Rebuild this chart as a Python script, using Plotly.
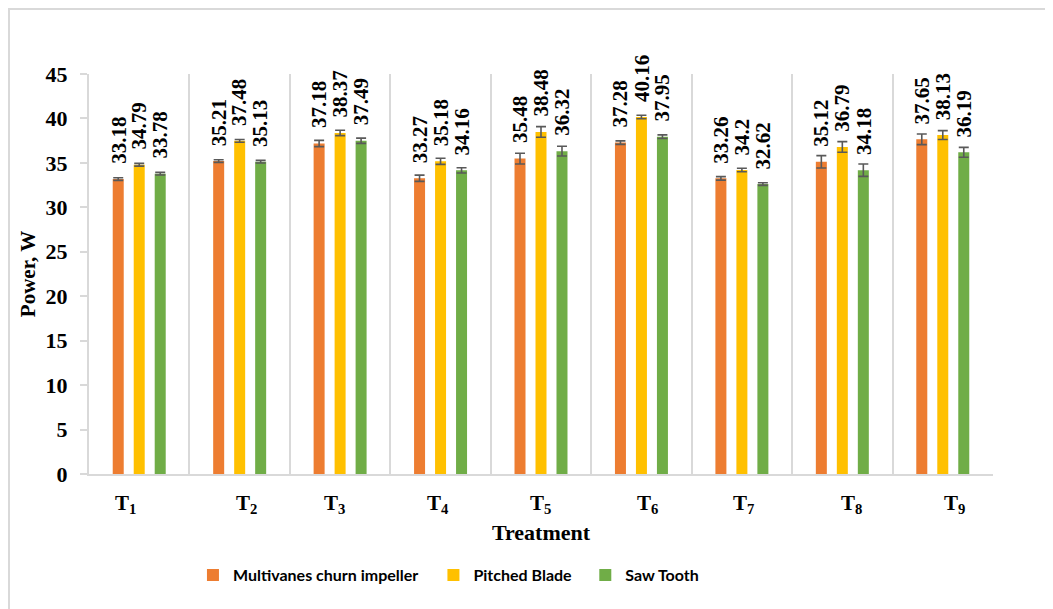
import plotly.graph_objects as go

categories = ["T1", "T2", "T3", "T4", "T5", "T6", "T7", "T8", "T9"]
tick_labels = ["T<sub>1</sub>", "T<sub>2</sub>", "T<sub>3</sub>", "T<sub>4</sub>", "T<sub>5</sub>",
               "T<sub>6</sub>", "T<sub>7</sub>", "T<sub>8</sub>", "T<sub>9</sub>"]
series_names = ["Multivanes churn impeller", "Pitched Blade", "Saw Tooth"]
multivanes = [33.18, 35.21, 37.18, 33.27, 35.48, 37.28, 33.26, 35.12, 37.65]
pitched = [34.79, 37.48, 38.37, 35.18, 38.48, 40.16, 34.2, 36.79, 38.13]
saw = [33.78, 35.13, 37.49, 34.16, 36.32, 37.95, 32.62, 34.18, 36.19]
err_multivanes = [0.15, 0.15, 0.35, 0.35, 0.6, 0.2, 0.2, 0.7, 0.6]
err_pitched = [0.15, 0.15, 0.3, 0.35, 0.6, 0.2, 0.2, 0.6, 0.5]
err_saw = [0.15, 0.15, 0.3, 0.3, 0.55, 0.2, 0.15, 0.7, 0.55]

colors = ["#ED7D31", "#FFC000", "#70AD47"]
serif = "Liberation Serif"
tick_xshift = [-14, 7, -6, -3, -1, 6, 2, 9, 12]
bar_xshift = [-21, 0, 21]
legend_ids = ["legend", "legend2", "legend3"]
legend_x = [0.115, 0.381, 0.549]

fig = go.Figure()
all_vals = [multivanes, pitched, saw]
all_errs = [err_multivanes, err_pitched, err_saw]
for name, vals, errs, col, lid in zip(series_names, all_vals, all_errs, colors, legend_ids):
    fig.add_trace(go.Bar(
        x=categories, y=vals, name=name, marker=dict(color=col, line=dict(width=0)),
        error_y=dict(type="data", array=errs, color="#595959", thickness=1.6, width=5),
        legend=lid, cliponaxis=False,
    ))

annotations = []
for vals, xs in zip(all_vals, bar_xshift):
    for c, v in zip(categories, vals):
        annotations.append(dict(
            x=c, y=v, xref="x", yref="y", text=f"<b>{v:g}</b>", showarrow=False,
            textangle=-90, xanchor="center", yanchor="bottom", xshift=xs, yshift=13,
            font=dict(family=serif, size=21, color="black"),
        ))
for c, lab, xs in zip(categories, tick_labels, tick_xshift):
    annotations.append(dict(
        x=c, y=0, xref="x", yref="paper", text=f"<b>{lab}</b>", showarrow=False,
        xanchor="center", yanchor="middle", yshift=-30, xshift=xs,
        font=dict(family=serif, size=21, color="black"),
    ))

legend_common = dict(orientation="h", xanchor="left", y=-0.253, yanchor="middle",
                     font=dict(family="Lato", size=16, color="black", weight="bold"),
                     itemwidth=30)
layout_legends = {}
for lid, lx in zip(legend_ids, legend_x):
    layout_legends[lid] = dict(legend_common, x=lx)

fig.update_layout(
    width=1045, height=601,
    margin=dict(l=81, r=60, t=66, b=135),
    paper_bgcolor="white", plot_bgcolor="white",
    barmode="group", bargap=0.373, bargroupgap=0.476,
    showlegend=True,
    annotations=annotations,
    shapes=[dict(type="rect", xref="paper", yref="paper", x0=-0.0885, x1=1.08, y0=-0.36, y1=1.1625,
                 line=dict(color="#D9D9D9", width=2), layer="below")],
    **layout_legends,
)
fig.update_xaxes(
    type="category", tickson="boundaries", showgrid=True, gridcolor="#D9D9D9", gridwidth=2,
    showline=True, linecolor="#D9D9D9", linewidth=2, ticks="", showticklabels=False,
    title=dict(text="<b>Treatment</b>", font=dict(family=serif, size=22, color="black"), standoff=50),
)
fig.update_yaxes(
    range=[0, 45], dtick=5, showgrid=False, showline=True, linecolor="#D9D9D9", linewidth=2,
    ticks="outside", ticklen=7, tickcolor="#D9D9D9", tickwidth=2,
    tickfont=dict(family=serif, size=22, color="black"), tickprefix="<b>", ticksuffix="</b>",
    ticklabelstandoff=8,
    title=dict(text="<b>Power, W</b>", font=dict(family=serif, size=21, color="black"), standoff=4),
    zeroline=False,
)

fig.write_html("out.html")
